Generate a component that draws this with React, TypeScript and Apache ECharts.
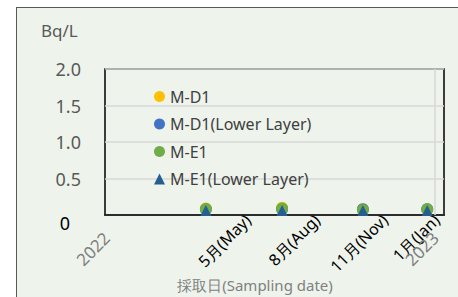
import React, { useEffect, useRef } from "react";
import * as echarts from "echarts";

// x positions are in months counted from January 2022
const sampleX = [3.67, 6.44, 9.38, 11.72];
const monthLabels = ["5月(May)", "8月(Aug)", "11月(Nov)", "1月(Jan)"];
const monthLabelX = [5.2, 7.71, 10.18, 12.06];
const yearLabels = ["2022", "2023"];
const yearLabelX = [0.06, 12.02];
const yearLine = 12;

const seriesNames = ["M-D1", "M-D1(Lower Layer)", "M-E1", "M-E1(Lower Layer)"];
const mD1 = [0.09, 0.1, 0.08, 0.08];
const mD1Lower = [0.08, 0.08, 0.08, 0.08];
const mE1 = [0.08, 0.09, 0.07, 0.08];
const mE1Lower = [0.06, 0.06, 0.06, 0.06];

const FONT = "Noto Sans";

function pickLabel(v: number, xs: number[], labels: string[]) {
  for (let i = 0; i < xs.length; i++) {
    if (Math.abs(xs[i] - v) < 1e-6) return labels[i];
  }
  return "";
}

export default function App() {
  const ref = useRef<HTMLDivElement>(null);
  useEffect(() => {
    if (!ref.current) return;
    const chart = echarts.init(ref.current, undefined, { renderer: "svg" });
    const mk = (name: string, vals: number[], color: string, symbol: string, size: number) => ({
      name,
      type: "scatter",
      xAxisIndex: 0,
      symbol,
      symbolSize: size,
      itemStyle: { color, opacity: 1 },
      data: vals.map((v, i) => [sampleX[i], v]),
    });
    const s0: any = mk(seriesNames[0], mD1, "#FFC000", "circle", 12);
    s0.markLine = {
      silent: true,
      symbol: "none",
      label: { show: false },
      lineStyle: { color: "#d9d9d9", type: "solid", width: 1.5 },
      data: [{ xAxis: yearLine }],
    };
    chart.setOption({
      animation: false,
      grid: {
        left: 105,
        top: 69,
        right: 14,
        bottom: 82,
        show: true,
        borderColor: "#000",
        borderWidth: 1.5,
      },
      legend: {
        orient: "vertical",
        left: 149,
        top: 82,
        itemWidth: 11,
        itemHeight: 11,
        itemGap: 8.5,
        textStyle: { fontFamily: FONT, fontSize: 16, color: "#404040", lineHeight: 19 },
        data: seriesNames,
      },
      xAxis: [
        {
          type: "value",
          min: 0,
          max: 12.33,
          axisLine: { show: true, lineStyle: { color: "#000", width: 1.5 } },
          axisTick: { show: false },
          splitLine: { show: false },
          axisLabel: {
            customValues: monthLabelX,
            rotate: 45,
            margin: 2,
            fontFamily: FONT,
            fontSize: 16,
            color: "#000",
            formatter: (v: number) => pickLabel(v, monthLabelX, monthLabels),
          },
        },
        {
          type: "value",
          min: 0,
          max: 12.33,
          position: "bottom",
          axisLine: { show: false },
          axisTick: { show: false },
          splitLine: { show: false },
          axisLabel: {
            customValues: yearLabelX,
            rotate: 45,
            margin: 20,
            fontFamily: FONT,
            fontSize: 17,
            color: "#808080",
            formatter: (v: number) => pickLabel(v, yearLabelX, yearLabels),
          },
        },
      ],
      yAxis: {
        type: "value",
        min: 0,
        max: 2,
        interval: 0.5,
        axisLine: { show: false },
        axisTick: { show: false },
        splitLine: { show: true, lineStyle: { color: "#d9d9d9", width: 1.5 } },
        axisLabel: {
          margin: 24,
          fontFamily: FONT,
          fontSize: 18,
          color: "#595959",
          formatter: (v: number) => (v === 0 ? "{z|0}" : v.toFixed(1)),
          rich: {
            z: { color: "#000", fontFamily: FONT, fontSize: 18, padding: [16, 11, 0, 0] },
          },
        },
      },
      graphic: [
        {
          type: "text",
          left: 41,
          top: 22,
          style: { text: "Bq/L", fontFamily: FONT, fontSize: 17, fill: "#595959" },
        },
        {
          type: "text",
          x: 255,
          y: 285,
          style: {
            text: "採取日(Sampling date)",
            fontFamily: FONT,
            fontSize: 15,
            fill: "#808080",
            align: "center",
            verticalAlign: "middle",
          },
        },
      ],
      series: [
        s0,
        mk(seriesNames[1], mD1Lower, "#4472C4", "circle", 12),
        mk(seriesNames[2], mE1, "#70AD47", "circle", 12),
        mk(seriesNames[3], mE1Lower, "#255E91", "triangle", 11),
      ],
    });
    return () => chart.dispose();
  }, []);
  return (
    <div style={{ position: "fixed", left: 0, top: 0, width: 458, height: 297, background: "#fff", overflow: "hidden" }}>
      <div
        style={{
          position: "absolute",
          left: 16,
          top: 7,
          width: 500,
          height: 400,
          background: "#eef4ec",
          borderLeft: "1.5px solid #595959",
          borderTop: "1.5px solid #595959",
        }}
      />
      <div ref={ref} style={{ position: "absolute", left: 0, top: 0, width: 458, height: 297 }} />
    </div>
  );
}
